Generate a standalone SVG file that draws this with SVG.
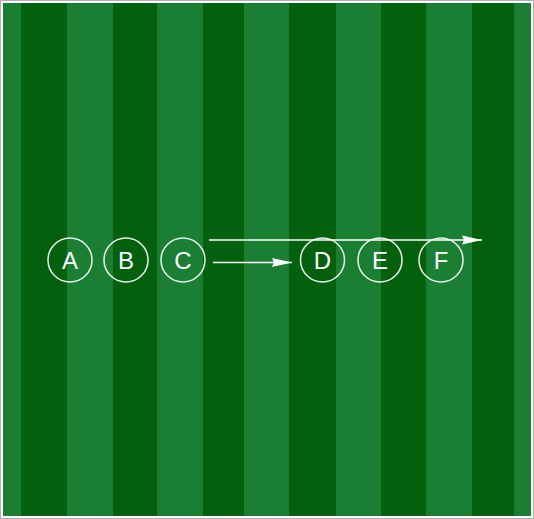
<svg xmlns="http://www.w3.org/2000/svg" width="534" height="519" viewBox="0 0 534 519">
<defs>
<style>
.l{fill:#1a7f32}
.d{fill:#03600d}
.node circle{fill:none;stroke:#ffffff;stroke-width:1.5;stroke-opacity:0.9}
.node text{fill:#ffffff;font-family:"Liberation Sans",Arial,sans-serif;font-size:24px;text-anchor:middle}
.conn line{stroke:#ffffff;stroke-width:1.6}
</style>
<marker id="ah" markerUnits="userSpaceOnUse" markerWidth="22" markerHeight="12" refX="20" refY="5" orient="auto" viewBox="0 0 22 10">
<path d="M0,0.5 L20,5 L0,9.5 L2,5 Z" fill="#ffffff"/>
</marker>
</defs>
<rect x="0" y="0" width="534" height="519" fill="#ffffff"/>
<g id="field">
<rect class="l" x="3" y="3" width="528" height="513"/>
<rect class="d" x="21" y="3" width="46" height="513"/>
<rect class="d" x="113" y="3" width="44" height="513"/>
<rect class="d" x="203" y="3" width="41" height="513"/>
<rect class="d" x="289" y="3" width="47" height="513"/>
<rect class="d" x="381" y="3" width="45" height="513"/>
<rect class="d" x="472" y="3" width="42" height="513"/>
</g>
<rect x="0.5" y="0.5" width="533" height="518" fill="none" stroke="#b0b0b0" stroke-width="1"/>
<g id="connectors" class="conn">
<line x1="209" y1="240" x2="482" y2="240" marker-end="url(#ah)"/>
<line x1="213" y1="262.5" x2="292" y2="262.5" marker-end="url(#ah)"/>
</g>
<g id="A" class="node"><circle cx="70" cy="260" r="22"/><text x="70" y="268.5">A</text></g>
<g id="B" class="node"><circle cx="126" cy="260" r="22"/><text x="126" y="268.5">B</text></g>
<g id="C" class="node"><circle cx="183" cy="260" r="22"/><text x="183" y="268.5">C</text></g>
<g id="D" class="node"><circle cx="322.5" cy="260" r="22"/><text x="322.5" y="268.5">D</text></g>
<g id="E" class="node"><circle cx="380" cy="260" r="22"/><text x="380" y="268.5">E</text></g>
<g id="F" class="node"><circle cx="441" cy="260" r="22"/><text x="441" y="268.5">F</text></g>
</svg>
